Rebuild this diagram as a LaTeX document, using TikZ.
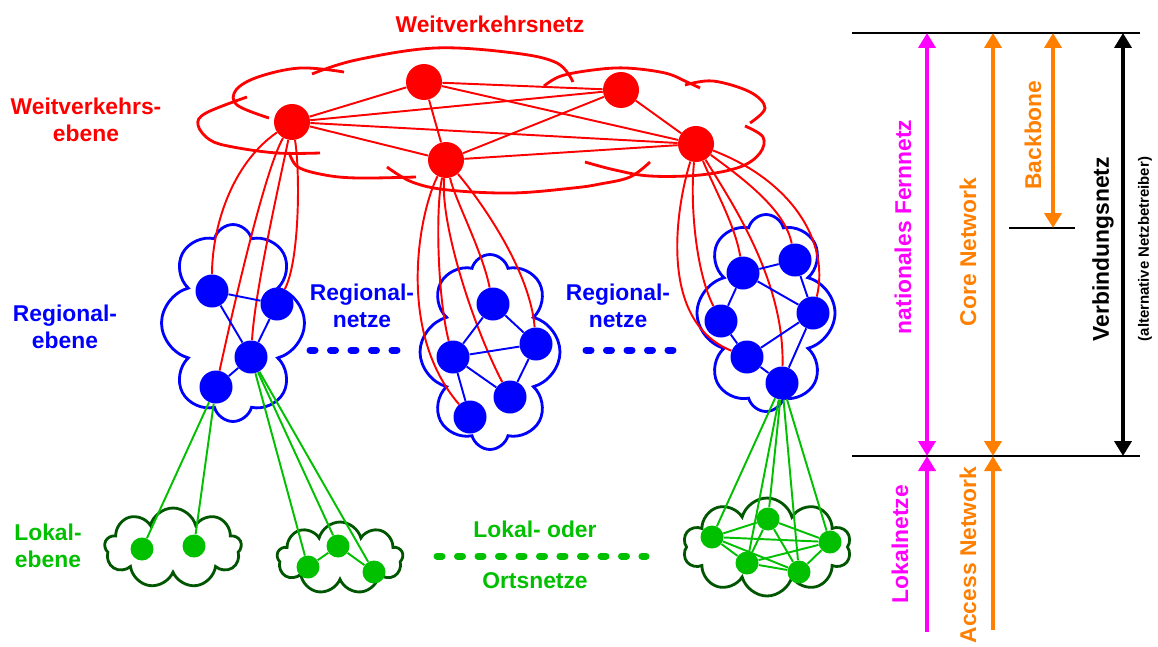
\documentclass[tikz,border=0pt]{standalone}
\usepackage{fontspec}
\setmainfont{Liberation Sans}
\usetikzlibrary{shapes.symbols,arrows.meta,backgrounds}
\definecolor{lokgreen}{RGB}{0,192,0}
\definecolor{lokdark}{RGB}{0,85,0}
\definecolor{netorange}{RGB}{255,128,0}
\definecolor{netmagenta}{RGB}{255,0,255}

\begin{document}
\begin{tikzpicture}[x=0.02cm,y=-0.02cm,
  wk/.style={circle,fill=red,minimum size=0.72cm,inner sep=0pt},
  rg/.style={circle,fill=blue,minimum size=0.66cm,inner sep=0pt},
  lk/.style={circle,fill=lokgreen,minimum size=0.46cm,inner sep=0pt},
  netcloud/.style={cloud,draw,cloud ignores aspect,line width=1.6pt,inner sep=0pt},
  lobe/.style={red,line width=1.6pt,smooth,tension=0.6},
  wlink/.style={red,line width=1.1pt},
  rlink/.style={blue,line width=1.1pt},
  llink/.style={lokgreen,line width=1.1pt},
  txt/.style={font=\bfseries\fontsize{13}{15}\selectfont,align=center,inner sep=0pt},
  dots/.style={line width=0.14cm,line cap=round,dash pattern=on 0.1cm off 0.31cm},
  rule/.style={line width=0.05cm},
  span/.style={line width=0.08cm,{Triangle[width=0.34cm,length=0.3cm]}-{Triangle[width=0.34cm,length=0.3cm]}},
  upspan/.style={line width=0.08cm,-{Triangle[width=0.34cm,length=0.3cm]}}]
\useasboundingbox (0,0) rectangle (1158,646);

% Weitverkehrsebene
\node[wk] (w1) at (292,122) {};
\node[wk] (w2) at (424,82) {};
\node[wk] (w3) at (621,90) {};
\node[wk] (w4) at (446,160) {};
\node[wk] (w5) at (696,144) {};

% Regionalebene
\node[rg] (a1) at (212,291) {};
\node[rg] (a2) at (277,304) {};
\node[rg] (a3) at (251,357) {};
\node[rg] (a4) at (216,387) {};
\node[rg] (b1) at (493,304) {};
\node[rg] (b2) at (536,344) {};
\node[rg] (b3) at (453,357) {};
\node[rg] (b4) at (510,397) {};
\node[rg] (b5) at (470,417) {};
\node[rg] (c1) at (743,273) {};
\node[rg] (c2) at (795,260) {};
\node[rg] (c3) at (813,313) {};
\node[rg] (c4) at (721,321) {};
\node[rg] (c5) at (747,357) {};
\node[rg] (c6) at (782,383) {};

% Lokalebene
\node[lk] (g1) at (142,549) {};
\node[lk] (g2) at (194,546) {};
\node[lk] (h1) at (308,567) {};
\node[lk] (h2) at (338,546) {};
\node[lk] (h3) at (374,572) {};
\node[lk] (k1) at (712,537) {};
\node[lk] (k2) at (768,519) {};
\node[lk] (k3) at (830,542) {};
\node[lk] (k4) at (747,563) {};
\node[lk] (k5) at (799,572) {};

\begin{scope}[on background layer]
% Wolke Weitverkehrsnetz
\draw[lobe] plot coordinates {(247,97) (206,113) (198,125) (210,140) (233,147) (277,153) (320,153)};
\draw[lobe] plot coordinates {(269,118) (237,105) (236,90) (258,77) (300,68) (344,72)};
\draw[lobe] plot coordinates {(312,74) (356,60) (435,48) (514,53) (557,63) (573,82)};
\draw[lobe] plot coordinates {(544,86) (561,76) (593,70) (626,68) (665,73) (687,82) (700,88)};
\draw[lobe] plot coordinates {(685,85) (713,81) (750,92) (765,108) (750,123)};
\draw[lobe] plot coordinates {(745,126) (763,137) (760,153) (740,167) (700,175) (650,176) (615,170) (585,162)};
\draw[lobe] plot coordinates {(650,162) (630,177) (600,184) (573,188) (512,193) (448,190) (412,182) (387,167)};
\draw[lobe] plot coordinates {(289,152) (298,167) (325,175) (358,178) (416,177)};

\node[netcloud,blue,cloud puffs=8,minimum width=2.86cm,minimum height=3.94cm] (reg1) at (233,323) {};
\node[netcloud,blue,cloud puffs=8,minimum width=2.8cm,minimum height=3.9cm] (reg2) at (490,352) {};
\node[netcloud,blue,cloud puffs=8,minimum width=2.76cm,minimum height=3.94cm] (reg3) at (766,313) {};
\node[netcloud,lokdark,cloud puffs=9,minimum width=2.74cm,minimum height=1.6cm] (lok1) at (173,548) {};
\node[netcloud,lokdark,cloud puffs=9,minimum width=2.52cm,minimum height=1.44cm] (lok2) at (340,558) {};
\node[netcloud,lokdark,cloud puffs=10,minimum width=3.36cm,minimum height=1.96cm] (lok3) at (767,547) {};

\foreach \p/\q in {w1/w2,w1/w3,w1/w4,w1/w5,w2/w3,w2/w4,w2/w5,w3/w4,w3/w5,w4/w5}
  \draw[wlink] (\p) -- (\q);

\draw[wlink] (w1) .. controls (230,165) and (212,230) .. (a1);
\draw[wlink] (w1) .. controls (265,170) and (235,300) .. (a4);
\draw[wlink] (w1) .. controls (280,180) and (255,290) .. (a3);
\draw[wlink] (w1) .. controls (300,170) and (300,260) .. (a2);
\draw[wlink] (w4) .. controls (420,210) and (395,330) .. (b5);
\draw[wlink] (w4) .. controls (435,210) and (438,300) .. (b3);
\draw[wlink] (w4) .. controls (440,220) and (470,320) .. (b4);
\draw[wlink] (w4) .. controls (455,200) and (482,250) .. (b1);
\draw[wlink] (w4) .. controls (480,200) and (530,270) .. (b2);
\draw[wlink] (w5) .. controls (678,200) and (655,320) .. (c5);
\draw[wlink] (w5) .. controls (690,200) and (695,270) .. (c4);
\draw[wlink] (w5) .. controls (715,190) and (735,225) .. (c1);
\draw[wlink] (w5) .. controls (730,200) and (785,280) .. (c6);
\draw[wlink] (w5) .. controls (745,180) and (785,210) .. (c2);
\draw[wlink] (w5) .. controls (790,180) and (830,240) .. (c3);

\foreach \p/\q in {a1/a2,a1/a3,a2/a3,a3/a4,b1/b3,b1/b2,b3/b2,b3/b4,b3/b5,b2/b4,
  c1/c2,c1/c3,c1/c4,c2/c3,c3/c5,c4/c5,c5/c6,c3/c6}
  \draw[rlink] (\p) -- (\q);

\foreach \p/\q in {a4/g1,a4/g2,a3/h1,a3/h2,a3/h3,h1/h2,h2/h3,
  c6/k1,c6/k2,c6/k3,c6/k4,c6/k5,
  k1/k2,k1/k3,k1/k4,k1/k5,k2/k3,k2/k4,k2/k5,k3/k4,k3/k5,k4/k5}
  \draw[llink] (\p) -- (\q);
\end{scope}

\draw[dots,blue] (310,350) -- (397,350);
\draw[dots,blue] (586,350) -- (674,350);
\draw[dots,lokgreen] (437,556) -- (646,556);

% Beschriftung
\node[txt,red] (wnetz) at (490,24) {Weitverkehrsnetz};
\node[txt,red] (webene) at (86,120) {Weitverkehrs-\\ebene};
\node[txt,blue] (rebene) at (65,327) {Regional-\\ebene};
\node[txt,blue] (rnetz1) at (362,306) {Regional-\\netze};
\node[txt,blue] (rnetz2) at (618,306) {Regional-\\netze};
\node[txt,lokgreen] (lebene) at (48,546) {Lokal-\\ebene};
\node[txt,lokgreen] (lnetz1) at (535,529) {Lokal- oder};
\node[txt,lokgreen] (lnetz2) at (535,581) {Ortsnetze};

% Netzebenen rechts
\coordinate (tl) at (852,33);
\coordinate (tr) at (1140,33);
\coordinate (bl) at (852,456);
\coordinate (br) at (1140,456);
\coordinate (bbl) at (1009,228);
\coordinate (bbr) at (1075,228);
\draw[rule] (tl) -- (tr);
\draw[rule] (bl) -- (br);
\draw[rule] (bbl) -- (bbr);

\coordinate (m1) at (927,33);
\coordinate (m2) at (927,456);
\coordinate (m3) at (927,632);
\coordinate (o1) at (993,33);
\coordinate (o2) at (993,456);
\coordinate (o3) at (993,630);
\coordinate (bb1) at (1053,33);
\coordinate (bb2) at (1053,228);
\coordinate (v1) at (1123,33);
\coordinate (v2) at (1123,456);
\draw[span,netmagenta] (m1) -- (m2);
\draw[upspan,netmagenta] (m3) -- (m2);
\draw[span,netorange] (o1) -- (o2);
\draw[upspan,netorange] (o3) -- (o2);
\draw[span,netorange] (bb1) -- (bb2);
\draw[span,black] (v1) -- (v2);

\node[txt,netmagenta,rotate=90] (fern) at (903,227) {nationales Fernnetz};
\node[txt,netorange,rotate=90] (core) at (968,252) {Core Network};
\node[txt,netorange,rotate=90] (bbone) at (1033,135) {Backbone};
\node[txt,rotate=90] (verb) at (1103,249) {Verbindungsnetz};
\node[font=\bfseries\fontsize{8.5}{10}\selectfont,inner sep=0pt,rotate=90] (alt) at (1145,249) {(alternative Netzbetreiber)};
\node[txt,netmagenta,rotate=90] (lokal) at (900,544) {Lokalnetze};
\node[txt,netorange,rotate=90] (access) at (968,555) {Access Network};
\end{tikzpicture}
\end{document}
